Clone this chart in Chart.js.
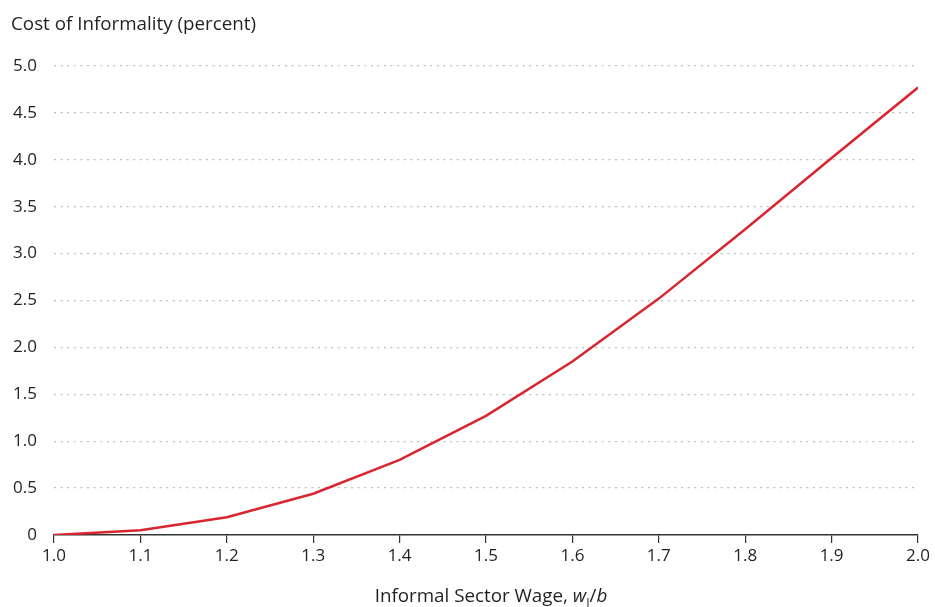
<!DOCTYPE html>
<html>
<head>
<meta charset="utf-8">
<script src="https://cdn.jsdelivr.net/npm/chart.js@4"></script>
<style>
  body { margin: 0; background: #fff; }
  #wrap { position: relative; width: 935px; height: 607px; font-family: "Open Sans", sans-serif; color: #231f20; }
  #yTitle { position: absolute; left: 11px; top: 10px; font-size: 18.8px; }
  #xTitle { position: absolute; left: 0; width: 982px; top: 582px; text-align: center; font-size: 18.8px; white-space: nowrap; }
  #xTitle sub { font-size: 12px; }
</style>
</head>
<body>
<div id="wrap">
  <canvas id="costChart" width="935" height="607"></canvas>
  <div id="yTitle">Cost of Informality (percent)</div>
  <div id="xTitle">Informal Sector Wage, <i>w</i><sub>I</sub>/<i>b</i></div>
</div>
<script>
// wage ratio w_I/b and cost of informality (percent)
const wageRatio = [1.0, 1.1, 1.2, 1.3, 1.4, 1.5, 1.6, 1.7, 1.8, 1.9, 2.0];
const costPct = [0, 0.05, 0.19, 0.44, 0.80, 1.27, 1.85, 2.52, 3.26, 4.02, 4.77];
const yTickLabels = ["0", "0.5", "1.0", "1.5", "2.0", "2.5", "3.0", "3.5", "4.0", "4.5", "5.0"];
const xTickLabels = ["1.0", "1.1", "1.2", "1.3", "1.4", "1.5", "1.6", "1.7", "1.8", "1.9", "2.0"];

Chart.defaults.font.family = '"Open Sans", sans-serif';
Chart.defaults.font.size = 17;
Chart.defaults.color = '#231f20';

let ctx = document.getElementById("costChart");
new Chart(ctx, {
    type: "line",
    data: {
        datasets: [{
            data: wageRatio.map((w, i) => ({ x: w, y: costPct[i] })),
            borderColor: '#d7262f',
            borderWidth: 2.5,
            pointRadius: 0,
            tension: 0,
            fill: false
        }]
    },
    options: {
        responsive: false,
        animation: false,
        layout: { padding: { top: 66, right: 17, left: 0, bottom: 0 } },
        plugins: { legend: { display: false }, tooltip: { enabled: false } },
        scales: {
            x: {
                type: "linear",
                min: 1, max: 2,
                afterFit: s => { s.height = 72; },
                ticks: {
                    stepSize: 0.1,
                    padding: 3,
                    callback: (v, i) => xTickLabels[i]
                },
                grid: { drawOnChartArea: false, drawTicks: true, tickLength: 8, color: '#333', lineWidth: 1.2 },
                border: { display: true, color: '#333', width: 1.5 }
            },
            y: {
                min: 0, max: 5,
                afterFit: s => { s.width = 54; },
                ticks: {
                    stepSize: 0.5,
                    padding: 17,
                    callback: (v, i) => yTickLabels[i]
                },
                grid: {
                    drawTicks: false,
                    color: ctx => ctx.tick && ctx.tick.value === 0 ? 'rgba(0,0,0,0)' : '#bdbdbd',
                    lineWidth: 1.3
                },
                border: { display: false, dash: [2, 4.6] }
            }
        }
    }
});
</script>
</body>
</html>
